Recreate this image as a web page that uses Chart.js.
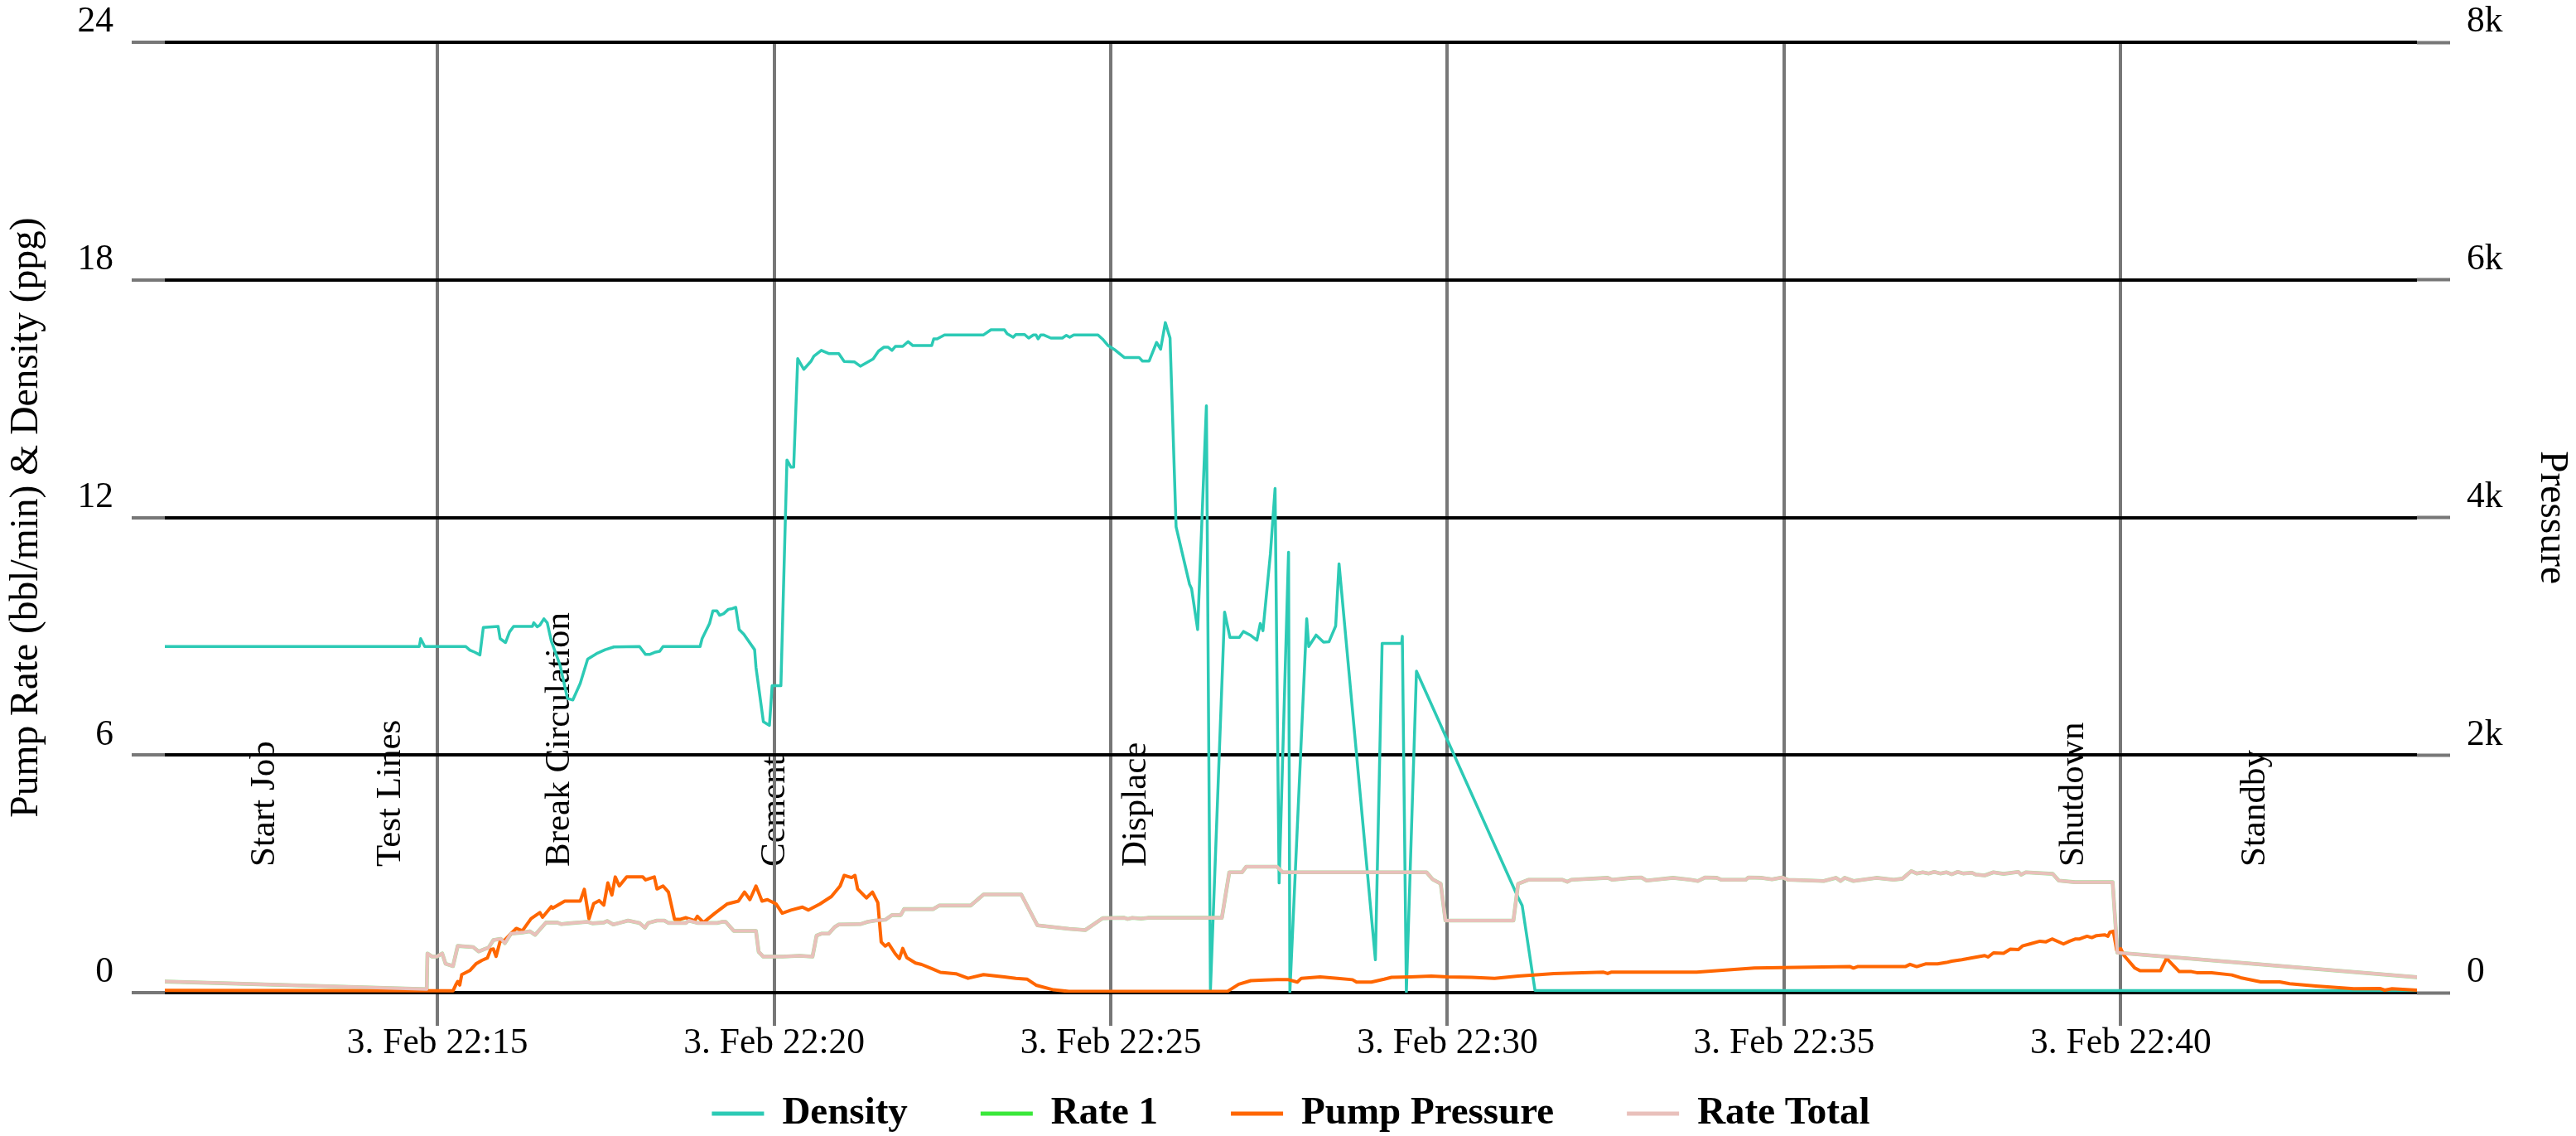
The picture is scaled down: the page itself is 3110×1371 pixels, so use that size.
<!DOCTYPE html>
<html>
<head>
<meta charset="utf-8">
<title>Pump Rate, Density and Pressure</title>
<script src="https://cdn.jsdelivr.net/npm/chart.js@4.4.1/dist/chart.umd.min.js"></script>
<style>
  html, body { margin: 0; padding: 0; background: #ffffff; }
  #wrap { width: 3110px; height: 1371px; position: relative; }
</style>
</head>
<body>
<div id="wrap"><canvas id="jobChart"></canvas></div>
<script>
// x values are minutes after 22:00 on 3 Feb
const X_TICKS = [15, 20, 25, 30, 35, 40];
const X_TICK_PREFIX = '3. Feb 22:';

const EVENT_NAMES = ['Start Job', 'Test Lines', 'Break Circulation', 'Cement', 'Displace', 'Shutdown', 'Standby'];
const EVENT_TIMES = [12.44, 14.31, 16.82, 20.01, 25.38, 39.30, 42.00];

// Density (ppg), left axis
const DENSITY = [
  [10.95, 8.74], [14.73, 8.74], [14.75, 8.94], [14.81, 8.74], [15.42, 8.74], [15.48, 8.65], [15.55, 8.60],
  [15.63, 8.53], [15.68, 9.22], [15.90, 9.25], [15.93, 8.94], [16.01, 8.84], [16.07, 9.11], [16.13, 9.25],
  [16.41, 9.25], [16.43, 9.34], [16.48, 9.24], [16.52, 9.28], [16.58, 9.44], [16.63, 9.34], [16.69, 8.88],
  [16.82, 8.27], [16.93, 7.43], [17.01, 7.39], [17.12, 7.81], [17.23, 8.42], [17.36, 8.56], [17.49, 8.66],
  [17.62, 8.73], [18.00, 8.74], [18.09, 8.54], [18.15, 8.54], [18.24, 8.60], [18.30, 8.62], [18.35, 8.74],
  [18.90, 8.74], [18.93, 8.94], [19.04, 9.32], [19.09, 9.64], [19.15, 9.64], [19.19, 9.53], [19.25, 9.57],
  [19.32, 9.68], [19.38, 9.70], [19.43, 9.73], [19.48, 9.17], [19.55, 9.05], [19.71, 8.66], [19.73, 8.22],
  [19.84, 6.84], [19.93, 6.75], [19.97, 7.75], [20.10, 7.75], [20.19, 13.45], [20.25, 13.27], [20.29, 13.27],
  [20.35, 16.01], [20.44, 15.74], [20.55, 15.95], [20.59, 16.07], [20.70, 16.22], [20.81, 16.14], [20.96, 16.14],
  [21.04, 15.94], [21.19, 15.93], [21.28, 15.82], [21.47, 16.00], [21.55, 16.20], [21.63, 16.30], [21.69, 16.30],
  [21.75, 16.22], [21.80, 16.32], [21.91, 16.32], [21.99, 16.44], [22.06, 16.34], [22.34, 16.34], [22.37, 16.51],
  [22.42, 16.51], [22.53, 16.61], [23.11, 16.61], [23.22, 16.74], [23.42, 16.74], [23.46, 16.64], [23.55, 16.55],
  [23.59, 16.62], [23.72, 16.62], [23.78, 16.53], [23.85, 16.61], [23.89, 16.61], [23.92, 16.51], [23.96, 16.61],
  [24.00, 16.61], [24.11, 16.53], [24.28, 16.53], [24.34, 16.60], [24.39, 16.55], [24.45, 16.61], [24.81, 16.61],
  [24.88, 16.50], [24.96, 16.34], [25.07, 16.22], [25.20, 16.04], [25.42, 16.04], [25.47, 15.95], [25.57, 15.95],
  [25.68, 16.42], [25.74, 16.25], [25.81, 16.92], [25.88, 16.53], [25.97, 11.76], [26.17, 10.31], [26.20, 10.20],
  [26.29, 9.17], [26.42, 14.82], [26.48, 0.07], [26.69, 9.61], [26.77, 8.97], [26.91, 8.97], [26.97, 9.12],
  [27.07, 9.03], [27.17, 8.90], [27.22, 9.32], [27.26, 9.14], [27.37, 11.07], [27.44, 12.73], [27.50, 2.77],
  [27.64, 11.12], [27.66, 0.02], [27.91, 9.44], [27.94, 8.74], [28.05, 9.03], [28.16, 8.85], [28.24, 8.86],
  [28.34, 9.26], [28.39, 10.83], [28.93, 0.83], [29.03, 8.82], [29.32, 8.82], [29.33, 9.00], [29.39, 0.02],
  [29.54, 8.12], [31.05, 2.40], [31.11, 2.20], [31.30, 0.06], [44.40, 0.05]
];

// Rate 1 (bbl/min), left axis
const RATE_1 = [
  [10.95, 0.28], [14.84, 0.09], [14.85, 0.99], [14.92, 0.91], [14.99, 0.91], [15.07, 0.99], [15.12, 0.73],
  [15.23, 0.67], [15.30, 1.18], [15.53, 1.15], [15.61, 1.04], [15.70, 1.10], [15.76, 1.14], [15.83, 1.33],
  [15.94, 1.36], [16.00, 1.25], [16.09, 1.49], [16.26, 1.52], [16.37, 1.55], [16.45, 1.46], [16.61, 1.77],
  [16.78, 1.77], [16.84, 1.73], [16.95, 1.75], [17.23, 1.79], [17.30, 1.75], [17.47, 1.77], [17.52, 1.81],
  [17.61, 1.72], [17.70, 1.76], [17.83, 1.82], [18.00, 1.76], [18.08, 1.64], [18.13, 1.76], [18.26, 1.82],
  [18.37, 1.82], [18.43, 1.76], [18.69, 1.76], [18.73, 1.82], [18.86, 1.76], [19.15, 1.76], [19.23, 1.79],
  [19.28, 1.79], [19.40, 1.56], [19.73, 1.56], [19.77, 1.03], [19.84, 0.91], [20.12, 0.91], [20.38, 0.93],
  [20.57, 0.91], [20.63, 1.44], [20.70, 1.49], [20.81, 1.49], [20.90, 1.66], [20.96, 1.72], [21.28, 1.73],
  [21.39, 1.79], [21.50, 1.82], [21.65, 1.84], [21.75, 1.96], [21.88, 1.96], [21.93, 2.11], [22.36, 2.11],
  [22.45, 2.20], [22.92, 2.20], [23.11, 2.48], [23.67, 2.48], [23.91, 1.70], [24.38, 1.61], [24.62, 1.58],
  [24.88, 1.88], [25.20, 1.89], [25.25, 1.86], [25.32, 1.89], [25.45, 1.87], [25.55, 1.89], [26.65, 1.89],
  [26.76, 3.04], [26.95, 3.04], [27.01, 3.18], [27.47, 3.18], [27.55, 3.04], [29.69, 3.04], [29.78, 2.86],
  [29.90, 2.75], [29.97, 1.82], [30.98, 1.82], [31.05, 2.75], [31.20, 2.85], [31.71, 2.85], [31.78, 2.80],
  [31.84, 2.85], [32.38, 2.90], [32.45, 2.85], [32.73, 2.90], [32.88, 2.91], [32.96, 2.83], [33.35, 2.90],
  [33.61, 2.85], [33.72, 2.82], [33.83, 2.91], [34.00, 2.90], [34.07, 2.85], [34.43, 2.85], [34.47, 2.91],
  [34.67, 2.90], [34.82, 2.86], [34.97, 2.91], [35.06, 2.85], [35.59, 2.82], [35.77, 2.90], [35.84, 2.82],
  [35.90, 2.90], [36.03, 2.82], [36.37, 2.90], [36.63, 2.85], [36.76, 2.88], [36.89, 3.07], [36.97, 3.01],
  [37.06, 3.04], [37.15, 3.01], [37.23, 3.05], [37.32, 3.01], [37.41, 3.04], [37.49, 2.99], [37.58, 3.05],
  [37.66, 3.01], [37.79, 3.03], [37.85, 2.98], [37.98, 2.96], [38.11, 3.04], [38.26, 3.00], [38.48, 3.05],
  [38.52, 2.98], [38.59, 3.04], [38.99, 3.00], [39.08, 2.83], [39.32, 2.79], [39.88, 2.79], [39.95, 1.01],
  [44.40, 0.39]
];

// Pump Pressure (psi), right axis
const PUMP_PRESSURE = [
  [10.95, 20], [15.23, 15], [15.27, 64], [15.30, 94], [15.33, 64], [15.36, 152], [15.48, 186], [15.57, 242],
  [15.66, 272], [15.74, 292], [15.79, 363], [15.83, 368], [15.87, 305], [15.93, 432], [16.00, 444], [16.09, 495],
  [16.17, 541], [16.26, 521], [16.39, 623], [16.52, 674], [16.56, 635], [16.69, 724], [16.71, 711], [16.89, 770],
  [17.12, 771], [17.18, 869], [17.25, 623], [17.32, 750], [17.40, 775], [17.47, 737], [17.53, 924], [17.59, 822],
  [17.64, 974], [17.70, 898], [17.81, 974], [18.05, 974], [18.09, 949], [18.22, 974], [18.26, 873], [18.35, 898],
  [18.43, 847], [18.52, 618], [18.61, 618], [18.69, 631], [18.82, 605], [18.86, 643], [18.95, 590], [19.12, 669],
  [19.30, 746], [19.47, 771], [19.56, 847], [19.64, 783], [19.73, 898], [19.82, 771], [19.90, 783], [20.03, 746],
  [20.12, 669], [20.25, 695], [20.42, 720], [20.51, 695], [20.68, 746], [20.85, 809], [20.98, 898], [21.04, 987],
  [21.15, 969], [21.20, 987], [21.24, 873], [21.37, 797], [21.46, 847], [21.54, 758], [21.59, 427], [21.65, 392],
  [21.70, 412], [21.80, 326], [21.86, 287], [21.91, 372], [21.97, 295], [22.10, 249], [22.19, 237], [22.36, 198],
  [22.47, 171], [22.70, 159], [22.88, 121], [23.11, 152], [23.42, 132], [23.59, 121], [23.76, 113], [23.89, 63],
  [24.15, 24], [24.38, 10], [26.73, 10], [26.90, 71], [27.08, 101], [27.29, 106], [27.47, 109], [27.64, 109],
  [27.77, 89], [27.83, 121], [28.11, 133], [28.37, 121], [28.59, 109], [28.65, 89], [28.87, 89], [29.06, 113],
  [29.17, 129], [29.45, 133], [29.76, 140], [30.01, 133], [30.36, 129], [30.70, 121], [31.05, 140], [31.41, 154],
  [31.58, 161], [32.32, 172], [32.38, 161], [32.43, 172], [33.70, 172], [34.56, 207], [35.98, 219], [36.03, 207],
  [36.09, 219], [36.80, 219], [36.87, 238], [36.97, 219], [37.10, 242], [37.28, 242], [37.41, 254], [37.49, 265],
  [37.64, 277], [37.79, 293], [37.98, 312], [38.03, 300], [38.11, 335], [38.26, 331], [38.36, 366], [38.48, 363],
  [38.54, 393], [38.65, 410], [38.80, 433], [38.89, 428], [38.98, 452], [39.15, 410], [39.24, 433], [39.33, 452],
  [39.39, 452], [39.50, 475], [39.57, 463], [39.64, 480], [39.76, 487], [39.81, 475], [39.84, 510], [39.89, 517],
  [39.94, 359], [40.00, 370], [40.05, 312], [40.21, 207], [40.29, 184], [40.59, 184], [40.68, 289], [40.87, 177],
  [41.05, 177], [41.13, 168], [41.35, 168], [41.65, 149], [41.78, 126], [42.08, 91], [42.36, 91], [42.51, 75],
  [42.90, 56], [43.46, 33], [43.85, 35], [43.92, 21], [44.03, 33], [44.40, 21]
];

// Rate Total (bbl/min), left axis
const RATE_TOTAL = [
  [10.95, 0.28], [14.84, 0.09], [14.85, 0.99], [14.92, 0.91], [14.99, 0.91], [15.07, 0.99], [15.12, 0.73],
  [15.23, 0.67], [15.30, 1.18], [15.53, 1.15], [15.61, 1.04], [15.70, 1.10], [15.76, 1.14], [15.83, 1.33],
  [15.94, 1.36], [16.00, 1.25], [16.09, 1.49], [16.26, 1.52], [16.37, 1.55], [16.45, 1.46], [16.61, 1.77],
  [16.78, 1.77], [16.84, 1.73], [16.95, 1.75], [17.23, 1.79], [17.30, 1.75], [17.47, 1.77], [17.52, 1.81],
  [17.61, 1.72], [17.70, 1.76], [17.83, 1.82], [18.00, 1.76], [18.08, 1.64], [18.13, 1.76], [18.26, 1.82],
  [18.37, 1.82], [18.43, 1.76], [18.69, 1.76], [18.73, 1.82], [18.86, 1.76], [19.15, 1.76], [19.23, 1.79],
  [19.28, 1.79], [19.40, 1.56], [19.73, 1.56], [19.77, 1.03], [19.84, 0.91], [20.12, 0.91], [20.38, 0.93],
  [20.57, 0.91], [20.63, 1.44], [20.70, 1.49], [20.81, 1.49], [20.90, 1.66], [20.96, 1.72], [21.28, 1.73],
  [21.39, 1.79], [21.50, 1.82], [21.65, 1.84], [21.75, 1.96], [21.88, 1.96], [21.93, 2.11], [22.36, 2.11],
  [22.45, 2.20], [22.92, 2.20], [23.11, 2.48], [23.67, 2.48], [23.91, 1.70], [24.38, 1.61], [24.62, 1.58],
  [24.88, 1.88], [25.20, 1.89], [25.25, 1.86], [25.32, 1.89], [25.45, 1.87], [25.55, 1.89], [26.65, 1.89],
  [26.76, 3.04], [26.95, 3.04], [27.01, 3.18], [27.47, 3.18], [27.55, 3.04], [29.69, 3.04], [29.78, 2.86],
  [29.90, 2.75], [29.97, 1.82], [30.98, 1.82], [31.05, 2.75], [31.20, 2.85], [31.71, 2.85], [31.78, 2.80],
  [31.84, 2.85], [32.38, 2.90], [32.45, 2.85], [32.73, 2.90], [32.88, 2.91], [32.96, 2.83], [33.35, 2.90],
  [33.61, 2.85], [33.72, 2.82], [33.83, 2.91], [34.00, 2.90], [34.07, 2.85], [34.43, 2.85], [34.47, 2.91],
  [34.67, 2.90], [34.82, 2.86], [34.97, 2.91], [35.06, 2.85], [35.59, 2.82], [35.77, 2.90], [35.84, 2.82],
  [35.90, 2.90], [36.03, 2.82], [36.37, 2.90], [36.63, 2.85], [36.76, 2.88], [36.89, 3.07], [36.97, 3.01],
  [37.06, 3.04], [37.15, 3.01], [37.23, 3.05], [37.32, 3.01], [37.41, 3.04], [37.49, 2.99], [37.58, 3.05],
  [37.66, 3.01], [37.79, 3.03], [37.85, 2.98], [37.98, 2.96], [38.11, 3.04], [38.26, 3.00], [38.48, 3.05],
  [38.52, 2.98], [38.59, 3.04], [38.99, 3.00], [39.08, 2.83], [39.32, 2.79], [39.88, 2.79], [39.95, 1.01],
  [44.40, 0.39]
];

const SERIF = "'Liberation Serif', 'Times New Roman', Times, serif";
const GRID_GREY = '#777777';

Chart.defaults.font.family = SERIF;
Chart.defaults.color = '#000000';

// rotated stage names, drawn under the grid lines
const eventLabels = {
  id: 'eventLabels',
  beforeDraw(chart) {
    const { ctx, chartArea, scales } = chart;
    ctx.save();
    ctx.font = `43px ${SERIF}`;
    ctx.fillStyle = '#000000';
    ctx.textAlign = 'left';
    ctx.textBaseline = 'middle';
    EVENT_NAMES.forEach((name, i) => {
      const x = scales.x.getPixelForValue(EVENT_TIMES[i]);
      ctx.save();
      ctx.translate(x, chartArea.bottom - 152);
      ctx.rotate(-Math.PI / 2);
      ctx.fillText(name, 0, 0);
      ctx.restore();
    });
    ctx.restore();
  }
};

// Highcharts-like legend row under the axis
const bottomLegend = {
  id: 'bottomLegend',
  afterDraw(chart) {
    const ctx = chart.ctx;
    const area = chart.chartArea;
    const symW = 63, gap = 22, itemGap = 88;
    ctx.save();
    ctx.font = `bold 47px ${SERIF}`;
    const items = chart.data.datasets.map(ds => ({
      text: ds.label,
      color: ds.legendColor || ds.borderColor,
      w: symW + gap + ctx.measureText(ds.label).width
    }));
    const total = items.reduce((s, it) => s + it.w, 0) + itemGap * (items.length - 1);
    let x = (area.left + area.right) / 2 - total / 2;
    const y = chart.height - 27;
    ctx.textAlign = 'left';
    ctx.textBaseline = 'middle';
    items.forEach(it => {
      ctx.strokeStyle = it.color;
      ctx.lineWidth = 5;
      ctx.beginPath();
      ctx.moveTo(x, y);
      ctx.lineTo(x + symW, y);
      ctx.stroke();
      ctx.fillStyle = '#000000';
      ctx.fillText(it.text, x + symW + gap, y);
      x += it.w + itemGap;
    });
    ctx.restore();
  }
};

const tickFont = { family: SERIF, size: 43.5 };
const titleFont = { family: SERIF, size: 47.5 };

new Chart(document.getElementById('jobChart'), {
  type: 'line',
  data: {
    datasets: [
      { label: 'Density', data: DENSITY, yAxisID: 'y', borderColor: '#2ccab5', borderWidth: 3.5, order: 3 },
      { label: 'Rate 1', data: RATE_1, yAxisID: 'y', borderColor: '#9ee39a', legendColor: '#3ae83a', borderWidth: 4.6, order: 2 },
      { label: 'Pump Pressure', data: PUMP_PRESSURE, yAxisID: 'y1', borderColor: '#ff6600', borderWidth: 4, order: 1 },
      { label: 'Rate Total', data: RATE_TOTAL, yAxisID: 'y', borderColor: '#e9c0bb', borderWidth: 4, order: 0 }
    ]
  },
  options: {
    responsive: true,
    maintainAspectRatio: false,
    devicePixelRatio: 1,
    animation: false,
    events: [],
    layout: { padding: { top: 51, left: 0, right: 0, bottom: 0 } },
    elements: {
      point: { radius: 0 },
      line: { tension: 0, borderJoinStyle: 'round', borderCapStyle: 'round', fill: false }
    },
    plugins: {
      legend: { display: false },
      tooltip: { enabled: false }
    },
    scales: {
      x: {
        type: 'linear',
        min: DENSITY[0][0],
        max: DENSITY[DENSITY.length - 1][0],
        afterBuildTicks: s => { s.ticks = X_TICKS.map(v => ({ value: v })); },
        afterFit: s => { s.height = 173; },
        grid: { color: GRID_GREY, lineWidth: 4, tickLength: 40, tickColor: GRID_GREY, tickWidth: 4 },
        border: { display: false },
        ticks: {
          font: { family: SERIF, size: 43.5, lineHeight: 1 },
          color: '#000000',
          padding: 0,
          maxRotation: 0,
          autoSkip: false,
          callback: v => X_TICK_PREFIX + v
        }
      },
      y: {
        position: 'left',
        min: 0,
        max: 24,
        afterFit: s => { s.width = 199; },
        grid: { color: '#000000', lineWidth: 4, tickLength: 40, tickColor: GRID_GREY, tickWidth: 4 },
        border: { display: false },
        ticks: { stepSize: 6, font: tickFont, color: '#000000', padding: 22, labelOffset: -24 },
        title: {
          display: true,
          text: 'Pump Rate (bbl/min) & Density (ppg)',
          font: titleFont,
          color: '#000000',
          padding: { top: 4, bottom: 0 }
        }
      },
      y1: {
        position: 'right',
        min: 0,
        max: 8000,
        afterFit: s => { s.width = 192; },
        grid: { drawOnChartArea: false, tickLength: 40, tickColor: GRID_GREY, tickWidth: 4 },
        border: { display: false },
        ticks: {
          stepSize: 2000,
          font: tickFont,
          color: '#000000',
          padding: 20,
          labelOffset: -24,
          callback: v => v === 0 ? '0' : (v / 1000) + 'k'
        },
        title: {
          display: true,
          text: 'Pressure',
          font: titleFont,
          color: '#000000',
          padding: { top: 1, bottom: 0 }
        }
      }
    }
  },
  plugins: [eventLabels, bottomLegend]
});
</script>
</body>
</html>
